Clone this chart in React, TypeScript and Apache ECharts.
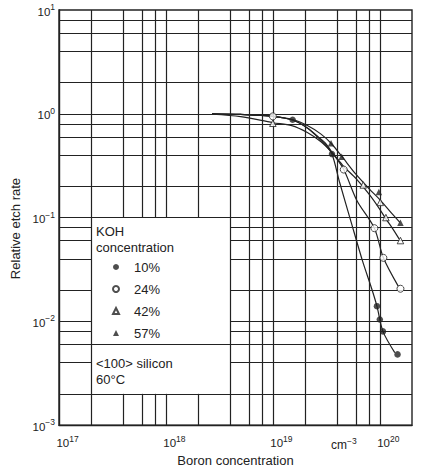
import React, { useEffect, useRef } from "react";
import * as echarts from "echarts";

// Boron concentration (cm^-3) vs. relative etch rate, KOH at 60 °C
const X_TICK_EXPONENTS = [17, 18, 19, 20];
const Y_TICK_EXPONENTS = [-3, -2, -1, 0, 1];

// Ruled grid: 1, 2, 4, 6, 8 per decade
const X_GRID = [2e17, 4e17, 6e17, 8e17, 1e18, 2e18, 4e18, 6e18, 8e18, 1e19, 2e19, 4e19, 6e19, 8e19, 1e20];
const Y_GRID = [
  0.002, 0.004, 0.006, 0.008, 0.01, 0.02, 0.04, 0.06, 0.08, 0.1,
  0.2, 0.4, 0.6, 0.8, 1, 2, 4, 6, 8,
];

const SERIES_NAMES = ["10%", "24%", "42%", "57%"];

// Measured points [boron concentration, relative etch rate]
const POINTS_10 = [[1.53e19, 0.875], [3.57e19, 0.409], [9.4e19, 0.014], [1.0e20, 0.0104], [1.07e20, 0.008], [1.465e20, 0.0048]];
const POINTS_24 = [[1.0e19, 0.944], [4.6e19, 0.29], [8.9e19, 0.079], [1.08e20, 0.0409], [1.56e20, 0.0206]];
const POINTS_42 = [[1.0e19, 0.81], [7.0e19, 0.206], [1.01e20, 0.14], [1.14e20, 0.1], [1.56e20, 0.06]];
const POINTS_57 = [[3.5e19, 0.52], [4.4e19, 0.385], [9.8e19, 0.176], [1.56e20, 0.089]];

// Hand-fitted curves through each set
const CURVE_10 = [[2.7e18, 1.0], [5e18, 0.985], [1e19, 0.945], [1.53e19, 0.87], [2.1e19, 0.73], [2.6e19, 0.6], [3.1e19, 0.5], [3.57e19, 0.41], [4.2e19, 0.22], [5.4e19, 0.09], [6.9e19, 0.038], [8.4e19, 0.0206], [9.4e19, 0.014], [1.07e20, 0.008], [1.38e20, 0.005]];
const CURVE_24 = [[2.7e18, 1.0], [5e18, 0.985], [1e19, 0.945], [1.53e19, 0.87], [2.1e19, 0.73], [2.6e19, 0.61], [3.1e19, 0.52], [3.6e19, 0.42], [4.6e19, 0.29], [6.1e19, 0.146], [8.9e19, 0.079], [1.08e20, 0.041], [1.5e20, 0.0215]];
const CURVE_42 = [[2.7e18, 0.99], [5e18, 0.94], [1e19, 0.82], [1.5e19, 0.77], [2.1e19, 0.66], [2.8e19, 0.54], [3.6e19, 0.42], [4.6e19, 0.31], [6e19, 0.237], [8e19, 0.166], [1e20, 0.12], [1.14e20, 0.097], [1.3e20, 0.08], [1.52e20, 0.062]];
const CURVE_57 = [[2.7e18, 1.0], [5e18, 0.985], [1e19, 0.945], [1.53e19, 0.88], [2.1e19, 0.77], [2.8e19, 0.64], [3.5e19, 0.52], [4.4e19, 0.39], [6e19, 0.26], [8e19, 0.188], [1e20, 0.149], [1.3e20, 0.109], [1.54e20, 0.09]];

// Axis extents and the blank panel that holds the key
const X_MIN = 1e17;
const X_MAX = 2e20;
const Y_MIN = 1e-3;
const Y_MAX = 10;
const KEY_X = [2e17, 4e18];
const KEY_Y = [0.002, 0.1];
const KEY_DIVIDER = 0.006;

const FONT = "'Liberation Sans', Arial, sans-serif";
const INK = "#222";

function expLabel(v: number, allowed: number[]) {
  const l = Math.log10(v);
  const e = Math.round(l);
  if (Math.abs(l - e) > 1e-6 || allowed.indexOf(e) < 0) return "";
  const s = e < 0 ? "\u2212" + -e : String(e);
  return `{b|10}{s|${s}}`;
}

const rich = {
  b: { fontSize: 11.5, fontFamily: FONT, color: INK, verticalAlign: "bottom" },
  s: { fontSize: 8.5, fontFamily: FONT, color: INK, verticalAlign: "bottom", padding: [0, 0, 6, 0] },
};

// Grid rules, broken where they would cross the key panel
function gridSegments() {
  const segs: any[] = [];
  const seg = (a: number[], b: number[]) => segs.push([{ coord: a }, { coord: b }]);
  X_GRID.forEach((x) => {
    if (x > KEY_X[0] && x < KEY_X[1]) {
      seg([x, Y_MIN], [x, KEY_Y[0]]);
      seg([x, KEY_Y[1]], [x, Y_MAX]);
    } else {
      seg([x, Y_MIN], [x, Y_MAX]);
    }
  });
  Y_GRID.forEach((y) => {
    if (y > KEY_Y[0] && y < KEY_Y[1] && y !== KEY_DIVIDER) {
      seg([X_MIN, y], [KEY_X[0], y]);
      seg([KEY_X[1], y], [X_MAX, y]);
    } else {
      seg([X_MIN, y], [X_MAX, y]);
    }
  });
  return segs;
}

export default function App() {
  const ref = useRef<HTMLDivElement>(null);

  useEffect(() => {
    if (!ref.current) return;
    const chart = echarts.init(ref.current, undefined, { renderer: "svg" });

    const open = { color: "#fff", borderColor: INK, borderWidth: 1 };
    const filled = { color: INK, borderColor: INK, borderWidth: 0 };

    chart.setOption({
      animation: false,
      backgroundColor: "#fff",
      grid: { left: 59, right: 12, top: 10, bottom: 43, show: true, borderColor: INK, borderWidth: 1.4, backgroundColor: "transparent" },
      xAxis: {
        type: "log",
        logBase: 10,
        min: X_MIN,
        max: X_MAX,
        name: "Boron concentration",
        nameLocation: "middle",
        nameGap: 28,
        nameTextStyle: { fontSize: 13, fontFamily: FONT, color: INK },
        axisLine: { show: true, lineStyle: { color: INK, width: 1.4 } },
        axisTick: { show: false },
        splitLine: { show: false },
        axisLabel: {
          margin: 9,
          padding: [0, 0, 0, 17],
          formatter: (v: number) => expLabel(v, X_TICK_EXPONENTS),
          rich,
        },
      },
      yAxis: {
        type: "log",
        logBase: 10,
        min: Y_MIN,
        max: Y_MAX,
        name: "Relative etch rate",
        nameLocation: "middle",
        nameRotate: 90,
        nameGap: 32,
        nameTextStyle: { fontSize: 13, fontFamily: FONT, color: INK, padding: [0, 22, 0, 0] },
        axisLine: { show: true, lineStyle: { color: INK, width: 1.4 } },
        axisTick: { show: false },
        splitLine: { show: false },
        axisLabel: {
          margin: 4,
          formatter: (v: number) => expLabel(v, Y_TICK_EXPONENTS),
          rich,
        },
      },
      legend: {
        data: SERIES_NAMES,
        orient: "vertical",
        left: 112,
        top: 260,
        padding: 0,
        itemWidth: 6,
        itemHeight: 6,
        itemGap: 8,
        selectedMode: false,
        textStyle: { fontSize: 13, fontFamily: FONT, color: INK, lineHeight: 14, padding: [0, 0, 0, 10] },
      },
      graphic: [
        {
          type: "text",
          left: 96,
          top: 223,
          z: 100,
          style: { text: "KOH\nconcentration", fontSize: 13, lineHeight: 16, fontFamily: FONT, fill: INK },
        },
        {
          type: "text",
          left: 96,
          top: 355,
          z: 100,
          style: { text: "<100> silicon\n60\u00b0C", fontSize: 13, lineHeight: 16.5, fontFamily: FONT, fill: INK },
        },
        {
          type: "text",
          left: 331,
          top: 436,
          z: 100,
          style: {
            text: "{b|cm}{s|\u22123}",
            rich: {
              b: { fontSize: 12, fontFamily: FONT, fill: INK, verticalAlign: "bottom" },
              s: { fontSize: 8.5, fontFamily: FONT, fill: INK, verticalAlign: "bottom", padding: [0, 0, 6, 0] },
            },
          },
        },
      ],
      series: [
        {
          name: "grid",
          type: "line",
          data: [],
          z: 1,
          silent: true,
          markLine: {
            silent: true,
            symbol: "none",
            label: { show: false },
            lineStyle: { color: INK, width: 1.2, type: "solid" },
            emphasis: { disabled: true },
            data: gridSegments(),
          },
        },
        ...[CURVE_10, CURVE_24, CURVE_42, CURVE_57].map((c, i) => ({
          name: SERIES_NAMES[i] + " fit",
          type: "line",
          data: c,
          z: 4,
          symbol: "none",
          smooth: 0.3,
          silent: true,
          lineStyle: { color: INK, width: 1.2 },
        })),
        { name: "10%", type: "scatter", data: POINTS_10, z: 5, symbol: "circle", symbolSize: 6.5, itemStyle: filled },
        { name: "24%", type: "scatter", data: POINTS_24, z: 5, symbol: "circle", symbolSize: 7, itemStyle: open },
        { name: "42%", type: "scatter", data: POINTS_42, z: 5, symbol: "triangle", symbolSize: 6.5, itemStyle: open },
        { name: "57%", type: "scatter", data: POINTS_57, z: 5, symbol: "triangle", symbolSize: 6.5, itemStyle: filled },
      ],
    });
    return () => chart.dispose();
  }, []);

  return <div ref={ref} style={{ position: "fixed", left: 0, top: 0, width: 424, height: 472 }} />;
}
